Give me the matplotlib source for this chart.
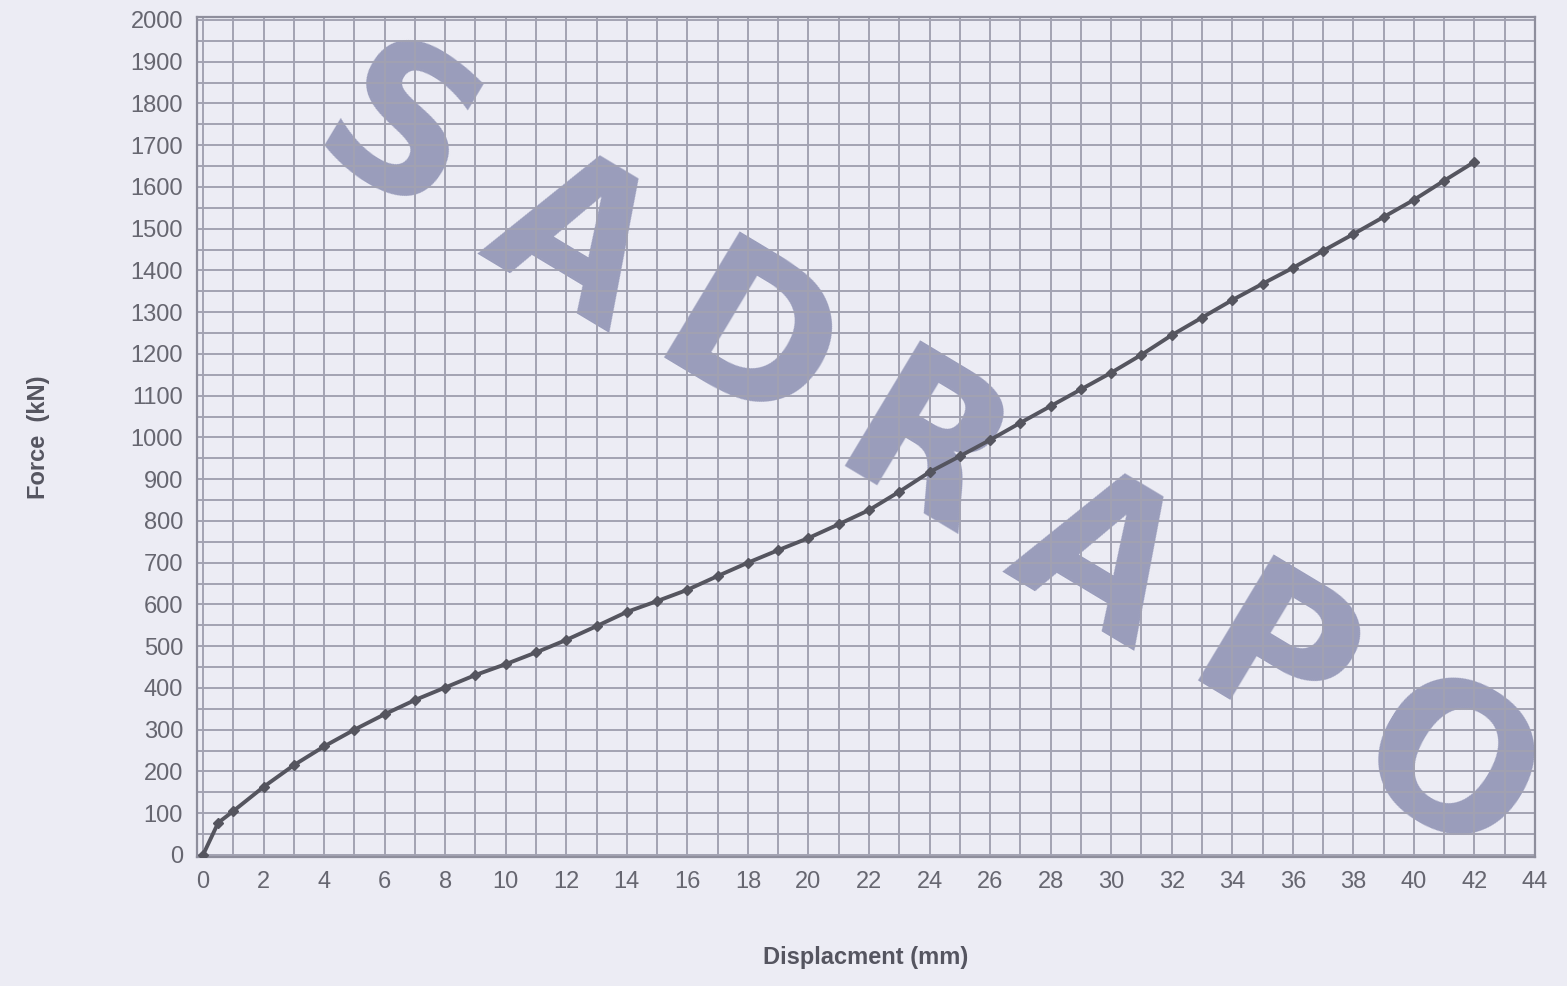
import numpy as np
import matplotlib.pyplot as plt
from matplotlib.ticker import MultipleLocator

# displacement (mm) and force (kN)
disp = [0, 0.5, 1, 2, 3, 4, 5, 6, 7, 8, 9, 10, 11, 12, 13, 14, 15, 16, 17, 18, 19,
        20, 21, 22, 23, 24, 25, 26, 27, 28, 29, 30, 31, 32, 33, 34, 35, 36, 37, 38,
        39, 40, 41, 42]
force = [0, 77, 105, 163, 215, 260, 300, 337, 371, 401, 431, 457, 485, 515, 548,
         582, 608, 635, 668, 700, 730, 759, 792, 826, 870, 917, 955, 994, 1035,
         1075, 1115, 1155, 1198, 1245, 1287, 1329, 1368, 1406, 1447, 1487, 1528,
         1569, 1615, 1660]

x_ticks = np.arange(0, 45, 2)
y_ticks = np.arange(0, 2001, 100)
watermark = 'SADRAPO'

plt.rcParams['font.family'] = ['Liberation Sans', 'DejaVu Sans']

fig = plt.figure(figsize=(15.67, 9.86), dpi=100, facecolor='#ececf4')
ax = fig.add_axes([0.1257, 0.1308, 0.8539, 0.8520])

ax.set_xlim(-0.2, 44)
ax.set_ylim(-5, 2007)
ax.set_xticks(x_ticks)
ax.set_yticks(y_ticks)
ax.xaxis.set_minor_locator(MultipleLocator(1))
ax.yaxis.set_minor_locator(MultipleLocator(50))
ax.grid(which='both', color='#a2a2b2', linewidth=1.4)
ax.set_axisbelow(True)
ax.tick_params(which='both', length=0, labelsize=17, labelcolor='#666670', pad=10)
for s in ax.spines.values():
    s.set_color('#8e8e9c')
    s.set_linewidth(1.6)

# watermark letters along the diagonal
for i, ch in enumerate(watermark):
    px = 395 + i * 175
    py = 140 + i * 106
    fig.text(px / 1567, 1 - py / 986, ch, fontsize=145, fontweight='bold',
             family='DejaVu Sans', color='#8589ad', alpha=0.8, rotation=-31,
             ha='center', va='center', zorder=1)

ax.plot(disp, force, color='#55555f', linewidth=2.8, marker='D', markersize=5.5,
        zorder=5)
ax.set_zorder(2)
ax.patch.set_alpha(0.0)

ax.set_xlabel('Displacment (mm)', fontsize=17, fontweight='bold', color='#555560',
              labelpad=38)
ax.set_ylabel('Force  (kN)', fontsize=17, fontweight='bold', color='#555560',
              labelpad=58)

plt.savefig('out.png', dpi=100, facecolor=fig.get_facecolor())
